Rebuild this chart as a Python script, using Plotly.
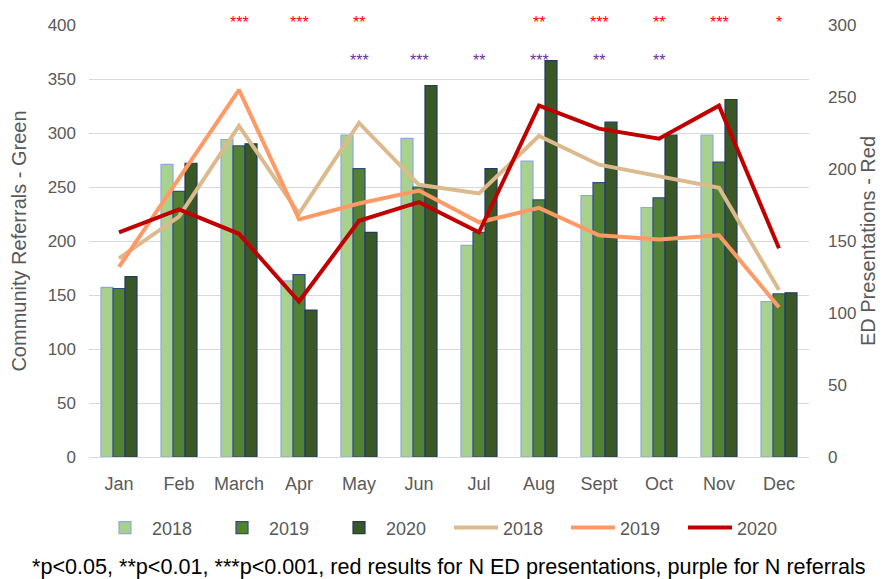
import plotly.graph_objects as go

months = ["Jan", "Feb", "March", "Apr", "May", "Jun", "Jul", "Aug", "Sept", "Oct", "Nov", "Dec"]

ref_2018 = [157, 271, 294, 163, 298, 295, 196, 274, 242, 231, 298, 144]
ref_2019 = [156, 246, 288, 169, 267, 250, 208, 238, 254, 240, 273, 151]
ref_2020 = [167, 272, 290, 136, 208, 344, 267, 367, 310, 298, 331, 152]

ed_2018 = [138, 167, 230, 169, 232, 189, 183, 223, 203, 195, 187, 116]
ed_2019 = [132, 193, 255, 165, 176, 185, 163, 173, 154, 151, 154, 104]
ed_2020 = [156, 172, 155, 108, 164, 177, 156, 244, 228, 221, 244, 145]

sig_red = ["", "", "***", "***", "**", "", "", "**", "***", "**", "***", "*"]
sig_purple = ["", "", "", "", "***", "***", "**", "***", "**", "**", "", ""]

FONT = "Liberation Sans"
GREY = "#595959"

fig = go.Figure()
bar_specs = [
    (ref_2018, "#a9d18e", "#8eaadb"),
    (ref_2019, "#548235", "#2f4e7e"),
    (ref_2020, "#3a5826", "#223a63"),
]
for name, (vals, col, edge) in zip(["2018", "2019", "2020"], bar_specs):
    fig.add_trace(go.Bar(x=months, y=vals, name=name, marker=dict(color=col, line=dict(color=edge, width=1.2)),
                         yaxis="y"))

line_specs = [(ed_2018, "#dbba8e"), (ed_2019, "#ff9a66"), (ed_2020, "#c00000")]
for name, (vals, col) in zip(["2018", "2019", "2020"], line_specs):
    fig.add_trace(go.Scatter(x=months, y=vals, name=name, mode="lines",
                             line=dict(color=col, width=4), yaxis="y2"))

annotations = []
for m, s in zip(months, sig_red):
    if s:
        annotations.append(dict(x=m, xref="x", y=1.005, yref="paper", yanchor="middle", text=s,
                                showarrow=False, font=dict(color="#ff0000", size=16, family=FONT)))
for m, s in zip(months, sig_purple):
    if s:
        annotations.append(dict(x=m, xref="x", y=0.917, yref="paper", yanchor="middle", text=s,
                                showarrow=False, font=dict(color="#7030a0", size=16, family=FONT)))
annotations.append(dict(x=0.5, xref="paper", y=-0.2546, yref="paper", yanchor="middle", showarrow=False,
                        text="*p<0.05, **p<0.01, ***p<0.001, red results for N ED presentations, purple for N referrals",
                        font=dict(color="#000000", size=21.6, family=FONT)))

# page body adds an 8px offset, so the figure is sized 8px smaller
fig.update_layout(
    width=880, height=571,
    margin=dict(l=81, r=79, t=17, b=122, autoexpand=False),
    plot_bgcolor="white", paper_bgcolor="white",
    font=dict(family=FONT, color=GREY, size=17),
    barmode="group", bargap=0.40, bargroupgap=0,
    xaxis=dict(showgrid=False, showline=True, linecolor="#d9d9d9", linewidth=1, ticks="",
               tickfont=dict(size=18, color=GREY), automargin=False, ticklabelstandoff=10),
    yaxis=dict(range=[0, 400], dtick=50, showgrid=True, gridcolor="#d9d9d9", gridwidth=1,
               zeroline=False, tickfont=dict(size=17, color=GREY), automargin=False, ticklabelstandoff=12,
               title=dict(text="Community Referrals - Green", font=dict(size=20, color=GREY), standoff=22)),
    yaxis2=dict(range=[0, 300], dtick=50, overlaying="y", side="right", showgrid=False, zeroline=False,
                tickfont=dict(size=17, color=GREY), automargin=False, ticklabelstandoff=18,
                title=dict(text="ED Presentations - Red", font=dict(size=20, color=GREY), standoff=5)),
    legend=dict(orientation="h", x=0.5, xanchor="center", y=-0.164, yanchor="middle",
                font=dict(size=18, color=GREY), traceorder="normal", itemwidth=44,
                entrywidth=58, entrywidthmode="pixels"),
    annotations=annotations,
    showlegend=True,
)

fig.write_html("out.html")
